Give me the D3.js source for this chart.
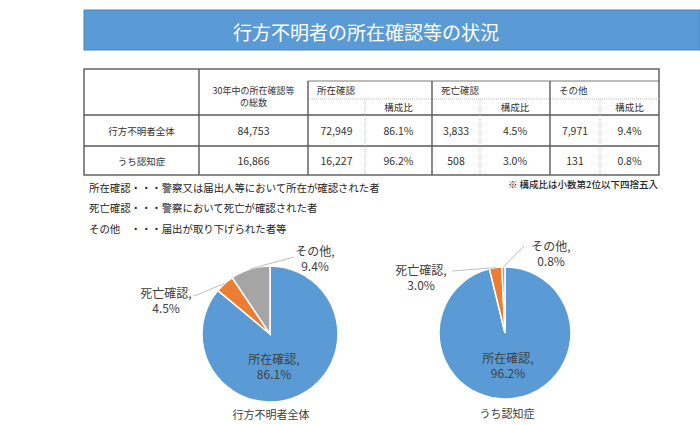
<!DOCTYPE html>
<html>
<head>
<meta charset="utf-8">
<script src="https://cdn.jsdelivr.net/npm/d3@7"></script>
<style>
  body { margin: 0; background: #fff; }
  svg { display: block; font-family: "Noto Sans CJK JP", "Noto Sans", sans-serif; }
</style>
</head>
<body>
<div id="chart"></div>
<script>
// Data
const title = "行方不明者の所在確認等の状況";
const categories = ["所在確認", "死亡確認", "その他"];
const groups = ["行方不明者全体", "うち認知症"];
const totals = [84753, 16866];
const counts = [[72949, 3833, 7971], [16227, 508, 131]];
const shares = [[86.1, 4.5, 9.4], [96.2, 3.0, 0.8]];
const totalHeader = ["30年中の所在確認等", "の総数"];
const shareHeader = "構成比";
const notes = [
    "所在確認・・・警察又は届出人等において所在が確認された者",
    "死亡確認・・・警察において死亡が確認された者",
    "その他\u3000・・・届出が取り下げられた者等"
];
const footnote = "※ 構成比は小数第2位以下四捨五入";
const colors = ["#5b9bd5", "#ed7d31", "#a5a5a5"];

const W = 700, H = 425;
const svg = d3.select("#chart").append("svg")
    .attr("width", W)
    .attr("height", H);

// Title bar
svg.append("rect")
    .attr("x", 84).attr("y", 10)
    .attr("width", W - 84).attr("height", 40)
    .attr("fill", "#5b9bd5")
    .attr("stroke", "#4a84bb");

svg.append("text")
    .attr("x", 366).attr("y", 31)
    .attr("text-anchor", "middle")
    .attr("dominant-baseline", "central")
    .attr("fill", "#fff")
    .style("font-size", "19px")
    .text(title);

// Table layout
const tbl = {left: 84, right: 659, top: 69, band: 81, sub: 99, head: 115};
const rowY = [115, 146, 175];
// column edges: label | total | (count, share) x 3
const colEdges = [84, 199, 308, 365, 432, 480, 550, 600, 659];
const lineColor = "#595959";
const textColor = "#333";

const g = svg.append("g");

function hline(x1, x2, y, dotted, w) {
    g.append("line")
        .attr("x1", x1).attr("x2", x2).attr("y1", y).attr("y2", y)
        .attr("stroke", dotted ? "#bbb" : lineColor)
        .attr("stroke-width", w || 1.2)
        .attr("stroke-dasharray", dotted ? "1,1" : null);
}
function vline(x, y1, y2, dotted, w) {
    g.append("line")
        .attr("x1", x).attr("x2", x).attr("y1", y1).attr("y2", y2)
        .attr("stroke", dotted ? "#bbb" : lineColor)
        .attr("stroke-width", w || 1.2)
        .attr("stroke-dasharray", dotted ? "1,1" : null);
}
function cellText(x, y, str, size, anchor) {
    g.append("text")
        .attr("x", x).attr("y", y)
        .attr("text-anchor", anchor || "middle")
        .attr("dominant-baseline", "central")
        .attr("fill", textColor)
        .style("font-size", (size || 10) + "px")
        .text(str);
}

// outer frame
g.append("rect")
    .attr("x", tbl.left).attr("y", tbl.top)
    .attr("width", tbl.right - tbl.left).attr("height", rowY[2] - tbl.top)
    .attr("fill", "none")
    .attr("stroke", lineColor)
    .attr("stroke-width", 1.4);

hline(colEdges[2], tbl.right, tbl.band, false, 0.8);
hline(colEdges[2], tbl.right, tbl.sub, true, 1);
rowY.slice(0, 2).forEach(y => hline(tbl.left, tbl.right, y, false, 1.4));

vline(colEdges[1], tbl.top, rowY[2], false, 1.4);
[2, 4, 6].forEach(i => vline(colEdges[i], tbl.band, rowY[2], false, 1.4));
[3, 5, 7].forEach(i => vline(colEdges[i], tbl.sub, rowY[2], true, 1));

// header
const midCol = i => (colEdges[i] + colEdges[i + 1]) / 2;
cellText(midCol(1), 90, totalHeader[0], 9);
cellText(midCol(1), 102, totalHeader[1], 9);
categories.forEach((c, k) => {
    cellText(colEdges[2 + k * 2] + 9, 90, c, 9.5, "start");
    cellText(midCol(3 + k * 2), 107, shareHeader, 9.5);
});

// body rows
const fmt = d3.format(",");
groups.forEach((grp, r) => {
    const y = (rowY[r] + rowY[r + 1]) / 2;
    cellText(midCol(0), y, grp, 9.5);
    cellText(midCol(1), y, fmt(totals[r]), 10.5);
    categories.forEach((c, k) => {
        cellText(midCol(2 + k * 2), y, fmt(counts[r][k]), 10.5);
        cellText(midCol(3 + k * 2), y, shares[r][k].toFixed(1) + "%", 10.5);
    });
});

// notes
notes.forEach((n, i) => {
    svg.append("text")
        .attr("x", 89).attr("y", 187 + i * 20.5)
        .attr("dominant-baseline", "central")
        .attr("fill", "#262626")
        .style("font-size", "10.4px")
        .text(n);
});
svg.append("text")
    .attr("x", 658).attr("y", 184)
    .attr("text-anchor", "end")
    .attr("dominant-baseline", "central")
    .attr("fill", "#262626")
    .style("font-size", "9.5px")
    .style("font-weight", "500")
    .text(footnote);

// Pies
const pieLayouts = [
    {cx: 270, cy: 334, r: 68, caption: [271, 414],
     labels: [[274, 358], [166, 292], [315, 250]],
     leaders: [null, [194, 296], [294, 257]]},
    {cx: 505, cy: 333, r: 66, caption: [507, 413],
     labels: [[508, 357], [421, 269], [551, 245]],
     leaders: [null, [452, 271], [524, 246]]}
];

const pie = d3.pie().sort(null).value(d => d);

pieLayouts.forEach((lay, gi) => {
    const pg = svg.append("g").attr("transform", `translate(${lay.cx},${lay.cy})`);
    const arc = d3.arc().innerRadius(0).outerRadius(lay.r);
    const arcs = pie(counts[gi]);

    pg.selectAll("path")
        .data(arcs)
        .enter()
        .append("path")
        .attr("d", arc)
        .attr("fill", (d, i) => colors[i])
        .attr("stroke", "#fff")
        .attr("stroke-width", 1.5);

    // leader lines
    arcs.forEach((d, i) => {
        const from = lay.leaders[i];
        if (!from) return;
        const a = (d.startAngle + d.endAngle) / 2;
        const ex = Math.sin(a) * lay.r, ey = -Math.cos(a) * lay.r;
        pg.append("line")
            .attr("x1", from[0] - lay.cx).attr("y1", from[1] - lay.cy)
            .attr("x2", ex).attr("y2", ey)
            .attr("stroke", "#bfbfbf")
            .attr("stroke-width", 1);
    });

    // labels
    arcs.forEach((d, i) => {
        const [lx, ly] = lay.labels[i];
        const t = svg.append("text")
            .attr("text-anchor", "middle")
            .attr("fill", "#404040")
            .style("font-size", "12px");
        t.append("tspan")
            .attr("x", lx).attr("y", ly)
            .attr("dominant-baseline", "central")
            .text(categories[i] + ",");
        t.append("tspan")
            .attr("x", lx).attr("y", ly + 15.5)
            .attr("dominant-baseline", "central")
            .text(shares[gi][i].toFixed(1) + "%");
    });

    svg.append("text")
        .attr("x", lay.caption[0]).attr("y", lay.caption[1])
        .attr("text-anchor", "middle")
        .attr("dominant-baseline", "central")
        .attr("fill", "#404040")
        .style("font-size", "11px")
        .text(groups[gi]);
});
</script>
</body>
</html>
